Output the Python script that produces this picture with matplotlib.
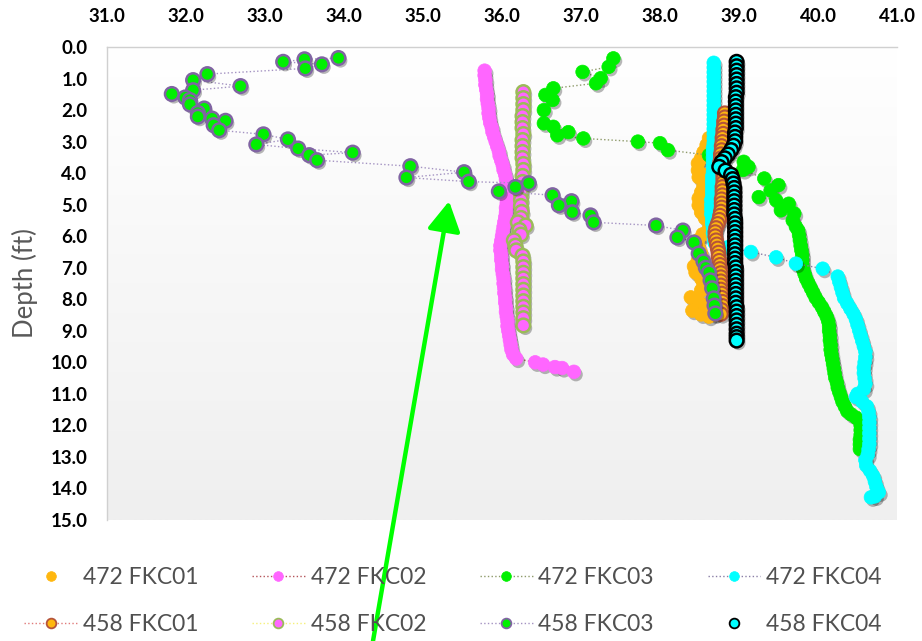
import numpy as np
import matplotlib
matplotlib.use("Agg")
import matplotlib.pyplot as plt
from matplotlib.lines import Line2D
from matplotlib.colors import LinearSegmentedColormap
import matplotlib.patheffects as pe

plt.rcParams['font.family'] = ['Lato', 'DejaVu Sans']

# ---------------- data ----------------
x_ticks = [31.0, 32.0, 33.0, 34.0, 35.0, 36.0, 37.0, 38.0, 39.0, 40.0, 41.0]
y_ticks = [0.0, 1.0, 2.0, 3.0, 4.0, 5.0, 6.0, 7.0, 8.0, 9.0, 10.0, 11.0, 12.0, 13.0, 14.0, 15.0]

# 472 FKC01
d_472_01 = [2.89, 3.11, 3.34, 3.53, 3.69, 3.91, 4.13, 4.07, 4.23, 4.42, 4.61, 4.80, 5.02, 5.24,
            5.43, 5.56, 5.75, 5.94, 6.13, 6.36, 6.55, 6.77, 6.96, 7.15, 7.34, 7.50, 7.72, 7.94,
            8.04, 8.20, 8.36, 8.48, 8.55, 8.48]
t_472_01 = [38.62, 38.59, 38.55, 38.52, 38.48, 38.48, 38.49, 38.58, 38.60, 38.55, 38.52, 38.49, 38.49, 38.52,
            38.57, 38.67, 38.62, 38.54, 38.48, 38.49, 38.52, 38.48, 38.43, 38.45, 38.52, 38.55, 38.52, 38.39,
            38.48, 38.57, 38.41, 38.52, 38.62, 38.69]

# 472 FKC02
d_472_02 = [0.75, 0.90, 1.05, 1.20, 1.35, 1.50, 1.65, 1.80, 1.95, 2.10, 2.25, 2.40, 2.55, 2.70, 2.85,
            3.00, 3.15, 3.30, 3.45, 3.60, 3.75, 3.90, 4.05, 4.20, 4.35, 4.50, 4.65, 4.80, 4.95, 5.10,
            5.25, 5.40, 5.55, 5.70, 5.85, 6.00, 6.15, 6.30, 6.45, 6.60, 6.75, 6.90, 7.05, 7.20, 7.35,
            7.50, 7.65, 7.80, 7.95, 8.10, 8.25, 8.40, 8.55, 8.70, 8.85, 9.00, 9.15, 9.30, 9.45, 9.60,
            9.75, 9.88, 10.00, 10.07, 10.15, 10.18, 10.30]
t_472_02 = [35.78, 35.78, 35.79, 35.79, 35.80, 35.81, 35.81, 35.82, 35.83, 35.83, 35.84, 35.85, 35.87, 35.88, 35.90,
            35.92, 35.94, 35.96, 35.97, 35.99, 36.01, 36.02, 36.04, 36.05, 36.06, 36.07, 36.07, 36.06, 36.06, 36.05,
            36.05, 36.04, 36.03, 36.02, 36.01, 36.00, 35.99, 35.98, 35.98, 35.99, 35.99, 36.00, 36.00, 36.01, 36.02,
            36.02, 36.03, 36.03, 36.04, 36.04, 36.05, 36.05, 36.06, 36.07, 36.07, 36.08, 36.09, 36.10, 36.11, 36.12,
            36.14, 36.18, 36.42, 36.52, 36.67, 36.76, 36.91]

# 472 FKC03
d_472_03 = [0.36, 0.63, 0.79, 0.99, 1.15, 1.31, 1.52, 1.68, 2.00, 2.42, 2.53, 2.70, 2.80, 2.90, 3.00,
            3.05, 3.27, 3.43, 3.64, 3.80, 3.90, 4.17, 4.38, 4.55, 4.76, 4.86, 4.97, 5.18, 5.28, 5.50,
            5.70, 5.82, 5.97, 6.13, 6.30, 6.45, 6.60, 6.75, 6.90, 7.05, 7.20, 7.35, 7.50, 7.65, 7.80,
            7.95, 8.10, 8.25, 8.40, 8.55, 8.70, 8.85, 9.00, 9.15, 9.30, 9.45, 9.60, 9.75, 9.90, 10.05,
            10.20, 10.35, 10.50, 10.65, 10.80, 10.95, 11.10, 11.25, 11.40, 11.55, 11.65, 11.75, 11.85, 12.00, 12.15,
            12.30, 12.45, 12.60, 12.75]
t_472_03 = [37.41, 37.35, 37.02, 37.25, 37.19, 36.65, 36.55, 36.64, 36.53, 36.53, 36.65, 36.84, 36.70, 37.03, 37.72,
            38.00, 38.10, 38.62, 39.06, 39.12, 39.05, 39.32, 39.50, 39.40, 39.25, 39.47, 39.63, 39.53, 39.70, 39.68,
            39.72, 39.75, 39.76, 39.77, 39.78, 39.79, 39.80, 39.80, 39.80, 39.81, 39.83, 39.85, 39.88, 39.91, 39.94,
            39.97, 40.01, 40.05, 40.08, 40.11, 40.13, 40.14, 40.14, 40.15, 40.15, 40.16, 40.16, 40.17, 40.18, 40.19,
            40.20, 40.21, 40.22, 40.24, 40.25, 40.27, 40.29, 40.31, 40.34, 40.37, 40.42, 40.48, 40.53, 40.54, 40.54,
            40.54, 40.53, 40.53, 40.53]

# 472 FKC04
d_472_04 = [0.50, 0.65, 0.80, 0.95, 1.10, 1.25, 1.40, 1.55, 1.70, 1.85, 2.00, 2.15, 2.30, 2.45, 2.60,
            2.75, 2.90, 3.05, 3.20, 3.35, 3.50, 3.65, 3.80, 3.95, 4.10, 4.25, 4.40, 4.55, 4.70, 4.85,
            5.00, 5.15, 5.30, 5.45, 5.60, 5.75, 5.90, 6.05, 6.20, 6.35, 6.50, 6.67, 6.87, 7.03, 7.28,
            7.45, 7.62, 7.79, 7.96, 8.13, 8.30, 8.47, 8.64, 8.81, 8.98, 9.15, 9.32, 9.49, 9.66, 9.83,
            10.00, 10.17, 10.34, 10.51, 10.68, 10.85, 11.00, 11.10, 11.25, 11.40, 11.57, 11.74, 11.91, 12.08, 12.25,
            12.42, 12.59, 12.76, 12.93, 13.10, 13.27, 13.44, 13.61, 13.78, 13.95, 14.12, 14.25, 14.28]
t_472_04 = [38.68, 38.68, 38.68, 38.68, 38.68, 38.68, 38.68, 38.68, 38.68, 38.68, 38.68, 38.68, 38.68, 38.68, 38.68,
            38.68, 38.68, 38.68, 38.67, 38.67, 38.67, 38.67, 38.67, 38.67, 38.66, 38.66, 38.66, 38.66, 38.66, 38.65,
            38.65, 38.65, 38.65, 38.66, 38.66, 38.67, 38.67, 38.68, 38.69, 38.86, 39.15, 39.47, 39.72, 40.06, 40.25,
            40.27, 40.29, 40.31, 40.33, 40.37, 40.41, 40.45, 40.48, 40.50, 40.52, 40.54, 40.56, 40.58, 40.60, 40.60,
            40.59, 40.58, 40.58, 40.59, 40.60, 40.58, 40.50, 40.48, 40.56, 40.62, 40.64, 40.65, 40.65, 40.65, 40.65,
            40.65, 40.65, 40.64, 40.63, 40.60, 40.61, 40.66, 40.70, 40.72, 40.74, 40.77, 40.72, 40.67]

# 458 FKC01
d_458_01 = [2.10, 2.23, 2.36, 2.49, 2.62, 2.75, 2.88, 3.01, 3.14, 3.27, 3.40, 3.53, 3.66, 3.79, 3.92,
            4.05, 4.18, 4.31, 4.44, 4.57, 4.70, 4.83, 4.96, 5.09, 5.22, 5.35, 5.48, 5.61, 5.74, 5.87,
            6.00, 6.13, 6.26, 6.39, 6.52, 6.65, 6.78, 6.91, 7.04, 7.17, 7.30, 7.43, 7.56, 7.69, 7.82,
            7.95, 8.08, 8.21, 8.34, 8.47]
t_458_01 = [38.82, 38.82, 38.81, 38.81, 38.80, 38.80, 38.79, 38.79, 38.78, 38.78, 38.77, 38.77, 38.76, 38.77, 38.79,
            38.80, 38.80, 38.80, 38.79, 38.79, 38.79, 38.78, 38.78, 38.78, 38.77, 38.76, 38.75, 38.73, 38.71, 38.70,
            38.70, 38.71, 38.72, 38.73, 38.74, 38.74, 38.75, 38.76, 38.76, 38.77, 38.77, 38.77, 38.77, 38.77, 38.78,
            38.78, 38.79, 38.79, 38.78, 38.77]

# 458 FKC02
d_458_02 = [1.43, 1.62, 1.81, 2.00, 2.19, 2.38, 2.57, 2.76, 2.95, 3.14, 3.33, 3.52, 3.71, 3.90, 4.09,
            4.28, 4.47, 4.66, 4.85, 5.04, 5.23, 5.42, 5.56, 5.66, 5.80, 5.95, 6.13, 6.30, 6.45, 6.62,
            6.80, 6.98, 7.16, 7.34, 7.52, 7.70, 7.88, 8.06, 8.24, 8.42, 8.60, 8.83]
t_458_02 = [36.27, 36.27, 36.27, 36.27, 36.26, 36.26, 36.26, 36.27, 36.26, 36.26, 36.26, 36.26, 36.27, 36.27, 36.26,
            36.26, 36.25, 36.24, 36.24, 36.24, 36.25, 36.24, 36.20, 36.30, 36.22, 36.24, 36.15, 36.17, 36.18, 36.26,
            36.27, 36.27, 36.27, 36.27, 36.27, 36.27, 36.27, 36.27, 36.27, 36.27, 36.27, 36.27]

# 458 FKC03
d_458_03 = [0.35, 0.39, 0.47, 0.55, 0.68, 0.86, 1.05, 1.24, 1.37, 1.49, 1.60, 1.68, 1.82, 1.95, 2.09,
            2.21, 2.27, 2.34, 2.48, 2.64, 2.77, 2.93, 3.09, 3.22, 3.35, 3.43, 3.59, 3.78, 3.97, 4.14,
            4.27, 4.32, 4.44, 4.58, 4.70, 4.89, 5.02, 5.24, 5.34, 5.56, 5.66, 5.82, 6.04, 6.20, 6.55,
            6.80, 7.00, 7.15, 7.40, 7.65, 7.97, 8.20, 8.45]
t_458_03 = [33.93, 33.50, 33.23, 33.72, 33.51, 32.27, 32.09, 32.69, 32.09, 31.82, 31.99, 32.05, 32.05, 32.23, 32.15,
            32.15, 32.33, 32.50, 32.35, 32.42, 32.98, 33.29, 32.89, 33.42, 34.11, 33.56, 33.66, 34.84, 35.52, 34.79,
            35.58, 36.34, 36.17, 35.96, 36.64, 36.88, 36.72, 36.89, 37.12, 37.16, 37.95, 38.29, 38.22, 38.43, 38.49,
            38.55, 38.58, 38.62, 38.64, 38.66, 38.68, 38.69, 38.70]

# 458 FKC04
d_458_04 = [0.47, 0.61, 0.75, 0.89, 1.03, 1.17, 1.31, 1.45, 1.59, 1.73, 1.87, 2.01, 2.15, 2.29, 2.43,
            2.57, 2.71, 2.85, 2.99, 3.13, 3.27, 3.41, 3.53, 3.65, 3.80, 3.92, 4.05, 4.19, 4.33, 4.47,
            4.61, 4.75, 4.89, 5.03, 5.17, 5.31, 5.45, 5.59, 5.73, 5.87, 6.01, 6.15, 6.29, 6.43, 6.57,
            6.71, 6.85, 6.99, 7.13, 7.27, 7.41, 7.55, 7.69, 7.83, 7.97, 8.11, 8.25, 8.39, 8.53, 8.67,
            8.81, 8.95, 9.09, 9.20, 9.31]
t_458_04 = [38.97, 38.97, 38.97, 38.97, 38.97, 38.97, 38.97, 38.97, 38.96, 38.96, 38.96, 38.96, 38.96, 38.96, 38.96,
            38.96, 38.95, 38.95, 38.95, 38.93, 38.90, 38.86, 38.82, 38.78, 38.75, 38.83, 38.90, 38.92, 38.93, 38.94,
            38.94, 38.94, 38.94, 38.94, 38.94, 38.94, 38.95, 38.95, 38.95, 38.95, 38.95, 38.95, 38.95, 38.95, 38.95,
            38.95, 38.95, 38.96, 38.96, 38.96, 38.96, 38.96, 38.96, 38.96, 38.96, 38.96, 38.97, 38.97, 38.97, 38.97,
            38.97, 38.97, 38.97, 38.97, 38.97]

# ---------------- figure ----------------
fig = plt.figure(figsize=(9.22, 6.41), dpi=100)
ax = fig.add_axes([107/922, 1-520/641, 790/922, 473/641])

grad = np.linspace(0, 1, 256).reshape(-1, 1)
cmap = LinearSegmentedColormap.from_list('bg', ['#ffffff', '#efefef'])
ax.imshow(grad, extent=(31, 41, 15, 0), aspect='auto', cmap=cmap, zorder=0, interpolation='bilinear')

shadow = [pe.SimplePatchShadow(offset=(1.5, -2), shadow_rgbFace='#000000', alpha=0.28), pe.Normal()]
MS = 9.8

series = [
    # (x, depth, face, edge, mew, line color, linestyle, label)
    (t_472_01, d_472_01, '#FFB70F', '#FFB70F', 0.5, '#FFB70F', 'none', '472 FKC01'),
    (t_472_02, d_472_02, '#FF66FF', '#FF66FF', 0.5, '#B5545A', ':', '472 FKC02'),
    (t_472_03, d_472_03, '#00F000', '#00F000', 0.5, '#8E9A6A', ':', '472 FKC03'),
    (t_472_04, d_472_04, '#00FFFF', '#00FFFF', 0.5, '#8A7EA6', ':', '472 FKC04'),
    (t_458_01, d_458_01, '#FFB70F', '#B5543A', 1.5, '#E07A7A', ':', '458 FKC01'),
    (t_458_02, d_458_02, '#FF66FF', '#9BBB59', 1.8, '#F5F07A', ':', '458 FKC02'),
    (t_458_03, d_458_03, '#00F000', '#8064A2', 1.8, '#A493C2', ':', '458 FKC03'),
    (t_458_04, d_458_04, '#00FFFF', '#000000', 1.8, '#000000', 'none', '458 FKC04'),
]

handles = []
for i, (xv, dv, fc, ec, mew, lc, ls, lab) in enumerate(series):
    if ls != 'none':
        ax.plot(xv, dv, linestyle=ls, color=lc, lw=1.0, zorder=2 + i * 2)
    ax.plot(xv, dv, linestyle='none', marker='o', ms=MS, mfc=fc, mec=ec, mew=mew,
            zorder=3 + i * 2, path_effects=shadow)
    handles.append(Line2D([0], [0], linestyle=ls if ls != 'none' else 'none', color=lc, lw=1.0,
                          marker='o', ms=7, mfc=fc, mec=ec, mew=min(mew, 1.3), label=lab))

ax.set_xlim(31, 41)
ax.set_ylim(15, 0)
ax.xaxis.tick_top()
ax.set_xticks(x_ticks)
ax.set_yticks(y_ticks)
ax.set_xticklabels([f'{v:.1f}' for v in x_ticks])
ax.set_yticklabels([f'{v:.1f}' for v in y_ticks])
ax.tick_params(axis='both', length=0, labelsize=13.5, labelcolor='black')
ax.tick_params(axis='x', pad=16)
ax.tick_params(axis='y', pad=14)
for lab in ax.get_xticklabels() + ax.get_yticklabels():
    lab.set_fontweight('bold')

for s in ['bottom', 'right']:
    ax.spines[s].set_visible(False)
for s in ['top', 'left']:
    ax.spines[s].set_color('#d0d0d0')
    ax.spines[s].set_linewidth(1.0)

ax.set_ylabel('Depth (ft)', fontsize=18.5, color='#595959')
ax.yaxis.set_label_coords(-0.087, 0.5)

order = [0, 4, 1, 5, 2, 6, 3, 7]
leg = fig.legend([handles[k] for k in order], [handles[k].get_label() for k in order],
                 ncol=4, loc='center', bbox_to_anchor=(453/922, 1-601/641), frameon=False,
                 fontsize=16.5, handlelength=2.3, handletextpad=0.25, columnspacing=2.35,
                 labelspacing=1.1, labelcolor='#505050')

# green arrow annotation
ax.annotate('', xy=(35.33, 4.89), xycoords='data', xytext=(373/922, 0.0), textcoords='figure fraction',
            arrowprops=dict(arrowstyle='-|>,head_length=0.5,head_width=0.28', color='#00FF00', lw=3.2,
                            mutation_scale=36, shrinkA=0, shrinkB=0),
            annotation_clip=False, zorder=30)

fig.savefig('out.png', dpi=100)
